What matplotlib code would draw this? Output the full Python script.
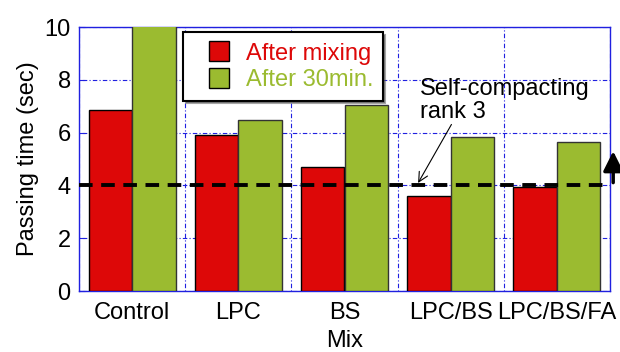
import numpy as np
import matplotlib
matplotlib.use("Agg")
import matplotlib.pyplot as plt
from matplotlib.patches import Patch, Rectangle
from matplotlib.legend_handler import HandlerPatch

# Data
mixes = ["Control", "LPC", "BS", "LPC/BS", "LPC/BS/FA"]
after_mixing = [6.86, 5.91, 4.70, 3.60, 3.94]
after_30min = [10.6, 6.48, 7.05, 5.83, 5.64]
threshold = 4.0

red = "#DD0808"
green = "#9BBB30"
grid_blue = "#2020E0"

plt.rcParams["font.family"] = ["Liberation Sans", "DejaVu Sans"]
plt.rcParams["font.size"] = 17

fig = plt.figure(figsize=(6.2, 3.52), dpi=100)
ax = fig.add_axes([79 / 620, 1 - 291 / 352, 531 / 620, 264 / 352])

x = np.arange(len(mixes))
w = 0.41
ax.bar(x - w / 2, after_mixing, w, color=red, edgecolor="black", linewidth=1, zorder=3)
ax.bar(x + w / 2, after_30min, w, color=green, edgecolor="#333333", linewidth=1, zorder=3)

ax.set_xlim(-0.5, len(mixes) - 0.5)
ax.set_ylim(0, 10)
ax.set_yticks([0, 2, 4, 6, 8, 10])
ax.set_xticks(x)
ax.set_xticklabels(mixes)
ax.set_xticks(np.arange(len(mixes) + 1) - 0.5, minor=True)
ax.tick_params(axis="x", which="both", length=0, pad=8)
ax.tick_params(axis="y", length=4, color=grid_blue, direction="in", pad=6)
ax.grid(True, axis="y", which="major", color=grid_blue, linestyle=(0, (1, 2, 4, 2)), linewidth=0.8, zorder=1)
ax.grid(True, axis="x", which="minor", color=grid_blue, linestyle=(0, (1, 2, 4, 2)), linewidth=0.8, zorder=1)
for s in ax.spines.values():
    s.set_color(grid_blue)
    s.set_linewidth(1)

ax.set_xlabel("Mix", labelpad=4)
ax.set_ylabel("Passing time (sec)", labelpad=4)

# Self-compacting threshold line
ax.axhline(threshold, color="black", linestyle=(0, (3.5, 2.2)), linewidth=2.8, zorder=4, clip_on=False)
ax.annotate("", xy=(4.53, 5.4), xytext=(4.53, threshold), xycoords="data",
            arrowprops=dict(arrowstyle="-|>,head_width=0.35,head_length=0.7", color="black", lw=2.5),
            annotation_clip=False, zorder=5)
ax.text(2.71, 6.35, "Self-compacting\nrank 3", ha="left", va="bottom", fontsize=17,
        linespacing=1.1, zorder=5)
ax.annotate("", xy=(2.68, threshold), xytext=(3.02, 6.4),
            arrowprops=dict(arrowstyle="->", color="black", lw=0.8), zorder=5)


# square legend swatch set to the right of a wider handle box
def square_patch(legend, orig_handle, xdescent, ydescent, width, height, fontsize):
    side = height
    return Rectangle((width - side - xdescent, -ydescent), side, side)


handles = [Patch(facecolor=red, edgecolor="black"), Patch(facecolor=green, edgecolor="black")]
leg = ax.legend(handles, ["After mixing", "After 30min."], loc="upper left",
                bbox_to_anchor=(0.196, 0.981), borderaxespad=0, fancybox=False, shadow=True,
                framealpha=1, edgecolor="black", handlelength=1.55, handleheight=0.92,
                borderpad=0.4, labelspacing=0.15, handletextpad=0.7,
                handler_map={Patch: HandlerPatch(patch_func=square_patch)})
leg.get_frame().set_linewidth(1.5)
leg.set_zorder(6)
for t, c in zip(leg.get_texts(), [red, green]):
    t.set_color(c)

fig.savefig("out.png", dpi=100)
